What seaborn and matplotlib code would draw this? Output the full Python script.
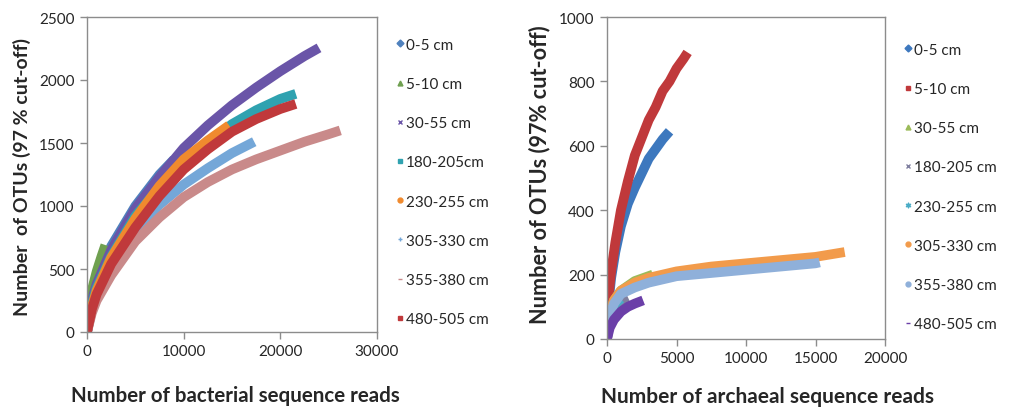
import matplotlib
matplotlib.use("Agg")
import matplotlib.pyplot as plt
from matplotlib.lines import Line2D
import seaborn as sns
import pandas as pd

# ---------------- data ----------------
DEPTHS = ["0-5 cm", "5-10 cm", "30-55 cm", "180-205 cm", "230-255 cm",
          "305-330 cm", "355-380 cm", "480-505 cm"]

# bacterial rarefaction curves: reads -> OTUs
BAC_READS = {
    "0-5 cm":     [0, 500, 1000, 2500, 5000, 7500, 9000],
    "5-10 cm":    [0, 200, 500, 1000, 1500, 1900],
    "30-55 cm":   [0, 500, 1000, 2500, 5000, 7500, 10000, 12500, 15000, 17500, 20000, 22500, 24000],
    "180-205 cm": [0, 500, 1000, 2500, 5000, 7500, 10000, 12500, 15000, 17500, 20000, 21600],
    "230-255 cm": [0, 500, 1000, 2500, 5000, 7500, 10000, 12500, 14700],
    "305-330 cm": [0, 500, 1000, 2500, 5000, 7500, 10000, 12500, 15000, 17300],
    "355-380 cm": [0, 500, 1000, 2500, 5000, 7500, 10000, 12500, 15000, 17500, 20000, 22500, 25000, 26200],
    "480-505 cm": [0, 500, 1000, 2500, 5000, 7500, 10000, 12500, 15000, 17500, 20000, 21600],
}
BAC_OTUS = {
    "0-5 cm":     [0, 260, 400, 680, 1000, 1250, 1370],
    "5-10 cm":    [0, 200, 330, 480, 600, 690],
    "30-55 cm":   [0, 250, 380, 650, 980, 1230, 1460, 1640, 1800, 1940, 2070, 2190, 2255],
    "180-205 cm": [0, 220, 350, 600, 920, 1150, 1340, 1500, 1650, 1760, 1850, 1890],
    "230-255 cm": [0, 200, 330, 590, 900, 1160, 1370, 1520, 1640],
    "305-330 cm": [0, 170, 280, 500, 800, 1010, 1170, 1300, 1420, 1510],
    "355-380 cm": [0, 150, 250, 450, 720, 910, 1070, 1190, 1290, 1370, 1440, 1510, 1570, 1600],
    "480-505 cm": [0, 180, 300, 540, 830, 1080, 1290, 1450, 1590, 1690, 1770, 1810],
}

# archaeal rarefaction curves: reads -> OTUs
ARC_READS = {
    "0-5 cm":     [0, 100, 300, 600, 1000, 1500, 2000, 2500, 3000, 3500, 4000, 4500],
    "5-10 cm":    [0, 100, 300, 600, 1000, 1500, 2000, 2500, 3000, 3500, 4000, 4500, 5000, 5500, 5800],
    "30-55 cm":   [0, 200, 500, 1000, 2000, 3300],
    "180-205 cm": [0, 200, 500, 1000, 1500],
    "230-255 cm": [0, 100, 300, 600, 1000],
    "305-330 cm": [0, 200, 500, 1000, 2000, 3000, 5000, 7500, 10000, 12500, 15000, 17100],
    "355-380 cm": [0, 200, 500, 1000, 2000, 3000, 5000, 7500, 10000, 12500, 15000, 15300],
    "480-505 cm": [0, 200, 500, 1000, 1500, 2000, 2600],
}
ARC_OTUS = {
    "0-5 cm":     [0, 110, 190, 270, 350, 420, 470, 515, 560, 590, 620, 645],
    "5-10 cm":    [0, 130, 210, 300, 400, 490, 570, 625, 680, 720, 770, 800, 840, 870, 890],
    "30-55 cm":   [0, 80, 120, 150, 180, 200],
    "180-205 cm": [0, 70, 100, 120, 130],
    "230-255 cm": [0, 50, 85, 110, 125],
    "305-330 cm": [0, 80, 120, 150, 175, 190, 210, 225, 235, 245, 255, 270],
    "355-380 cm": [0, 75, 110, 140, 160, 175, 195, 205, 215, 225, 235, 238],
    "480-505 cm": [0, 35, 60, 85, 100, 110, 120],
}

BAC_LABELS = ["0-5 cm", "5-10 cm", "30-55 cm", "180-205cm", "230-255 cm",
              "305-330 cm", "355-380 cm", "480-505 cm"]
ARC_LABELS = ["0-5 cm", "5-10 cm", "30-55 cm", "180-205 cm", "230-255 cm",
              "305-330 cm", "355-380 cm", "480-505 cm"]

# ---------------- styles ----------------
BAC_COLORS = ["#4F81BD", "#6FA050", "#6A55A8", "#2FA2B0", "#F08A2E",
              "#74A7D8", "#C98A8A", "#C0393B"]
BAC_MARKERS = ["D", "^", "x", "s", "o", "+", "_", "s"]
ARC_COLORS = ["#3D78BE", "#C0393B", "#9BBB59", "#7F7F9F", "#4BACC6",
              "#F29B4B", "#8FB0DA", "#6B3FA8"]
ARC_MARKERS = ["D", "s", "^", "x", "$\u2736$", "o", "o", "_"]

sns.set_theme(style="white")
plt.rcParams["font.family"] = ["Lato", "DejaVu Sans"]

fig = plt.figure(figsize=(10.13, 4.14), dpi=100)
axL = fig.add_axes([87 / 1013, 1 - 333 / 414, 290 / 1013, 315 / 414])
axR = fig.add_axes([607 / 1013, 1 - 340 / 414, 278 / 1013, 322 / 414])


def long_df(reads, otus):
    rows = []
    for d in DEPTHS:
        for x, y in zip(reads[d], otus[d]):
            rows.append({"depth": d, "reads": x, "otus": y})
    return pd.DataFrame(rows)


def draw(ax, reads, otus, colors, xmax, ymax, xstep, ystep, xlabel, ylabel,
         xl_pos, yl_pos, xl_size, yl_size, lw):
    df = long_df(reads, otus)
    sns.lineplot(data=df, x="reads", y="otus", hue="depth", hue_order=DEPTHS,
                 palette=colors, linewidth=lw, sort=False, estimator=None,
                 legend=False, ax=ax, solid_capstyle="butt")
    ax.set_xlim(0, xmax)
    ax.set_ylim(0, ymax)
    ax.set_xticks(range(0, xmax + 1, xstep))
    ax.set_yticks(range(0, ymax + 1, ystep))
    for s in ax.spines.values():
        s.set_color("#8C8C8C")
        s.set_linewidth(1.0)
    ax.tick_params(axis="both", which="both", direction="out", length=5,
                   width=1, color="#8C8C8C", labelsize=11, labelcolor="#262626",
                   bottom=True, left=True, pad=4)
    ax.set_xlabel(xlabel, fontsize=xl_size, fontweight="bold", color="#262626")
    ax.set_ylabel(ylabel, fontsize=yl_size, fontweight="bold", color="#262626")
    ax.xaxis.set_label_coords(*xl_pos)
    ax.xaxis.label.set_va("center")
    ax.yaxis.set_label_coords(*yl_pos)
    ax.yaxis.label.set_va("center")


draw(axL, BAC_READS, BAC_OTUS, BAC_COLORS, 30000, 2500, 10000, 500,
     "Number of bacterial sequence reads", "Number  of OTUs (97 % cut-off)",
     (0.51, -0.20), (-0.224, 0.495), 14.8, 14.0, 7)
draw(axR, ARC_READS, ARC_OTUS, ARC_COLORS, 20000, 1000, 5000, 200,
     "Number of archaeal sequence reads", "Number of OTUs (97% cut-off)",
     (0.576, -0.177), (-0.241, 0.512), 15.0, 15.6, 7)


def handles(colors, markers):
    return [Line2D([], [], linestyle="None", marker=m, color=c,
                   markersize=3.5, markeredgewidth=1.0) for c, m in zip(colors, markers)]


fig.legend(handles(BAC_COLORS, BAC_MARKERS), BAC_LABELS,
           loc="upper left", bbox_to_anchor=(382 / 1013, 1 - 25 / 414),
           frameon=False, fontsize=11, labelspacing=1.65, handlelength=0.5,
           handletextpad=0.15, labelcolor="#262626")
fig.legend(handles(ARC_COLORS, ARC_MARKERS), ARC_LABELS,
           loc="upper left", bbox_to_anchor=(890 / 1013, 1 - 30 / 414),
           frameon=False, fontsize=11, labelspacing=1.65, handlelength=0.5,
           handletextpad=0.15, labelcolor="#262626")

fig.savefig("out.png", dpi=100)
